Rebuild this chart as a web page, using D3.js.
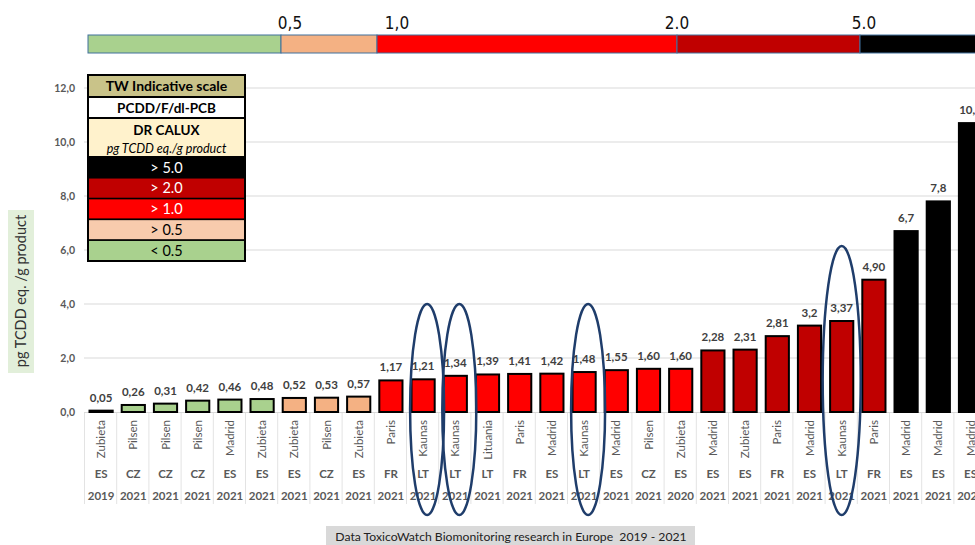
<!DOCTYPE html>
<html>
<head>
<meta charset="utf-8">
<script src="https://cdn.jsdelivr.net/npm/d3@7"></script>
<style>
  body { margin: 0; background: #fff; }
  svg { display: block; font-family: Lato, "Open Sans", sans-serif; }
</style>
</head>
<body>
<div id="chart"></div>
<script>
// chart values
var cities = ["Zubieta", "Pilsen", "Pilsen", "Pilsen", "Madrid", "Zubieta", "Zubieta", "Pilsen", "Zubieta",
    "Paris", "Kaunas", "Kaunas", "Lituania", "Paris", "Madrid", "Kaunas", "Madrid", "Pilsen", "Zubieta",
    "Madrid", "Zubieta", "Paris", "Madrid", "Kaunas", "Paris", "Madrid", "Madrid", "Madrid"];
var countries = ["ES", "CZ", "CZ", "CZ", "ES", "ES", "ES", "CZ", "ES",
    "FR", "LT", "LT", "LT", "FR", "ES", "LT", "ES", "CZ", "ES",
    "ES", "ES", "FR", "ES", "LT", "FR", "ES", "ES", "ES"];
var years = ["2019", "2021", "2021", "2021", "2021", "2021", "2021", "2021", "2021",
    "2021", "2021", "2021", "2021", "2021", "2021", "2021", "2021", "2021", "2020",
    "2021", "2021", "2021", "2021", "2021", "2021", "2021", "2021", "2021"];
var values = [0.05, 0.26, 0.31, 0.42, 0.46, 0.48, 0.52, 0.53, 0.57,
    1.17, 1.21, 1.34, 1.39, 1.41, 1.42, 1.48, 1.55, 1.60, 1.60,
    2.28, 2.31, 2.81, 3.2, 3.37, 4.90, 6.7, 7.8, 10.7];
var valueLabels = ["0,05", "0,26", "0,31", "0,42", "0,46", "0,48", "0,52", "0,53", "0,57",
    "1,17", "1,21", "1,34", "1,39", "1,41", "1,42", "1,48", "1,55", "1,60", "1,60",
    "2,28", "2,31", "2,81", "3,2", "3,37", "4,90", "6,7", "7,8", "10,7"];

var yTicks = [0, 2, 4, 6, 8, 10, 12];
var yTickLabels = ["0,0", "2,0", "4,0", "6,0", "8,0", "10,0", "12,0"];

// indicative scale
var thresholds = [0.5, 1, 2, 5];
var scaleColors = ["#a9d18e", "#f4b183", "#ff0000", "#c00000", "#000000"];
var topTicks = [0.5, 1, 2, 5];
var topTickLabels = ["0,5", "1,0", "2.0", "5.0"];
var legendRows = ["> 5.0", "> 2.0", "> 1.0", "> 0.5", "< 0.5"];
var legendColors = ["#000000", "#c00000", "#ff0000", "#f8cbad", "#a9d18e"];
var legendTextColors = ["#fff", "#fff", "#fff", "#000", "#000"];

// circled bars (Kaunas) and the value the ellipse top reaches
var circled = [10, 11, 15, 23];
var circledTop = [4.0, 4.0, 4.0, 6.15];

var width = 975, height = 545;

var svg = d3.select("#chart").append("svg")
    .attr("width", width)
    .attr("height", height);

var x = d3.scaleBand().domain(d3.range(values.length))
    .range([85, 85 + 32.2 * values.length])
    .paddingInner(0.28)
    .paddingOuter(0.14);
var y = d3.scaleLinear().domain([0, 12]).range([412, 88]);
var color = d3.scaleThreshold().domain(thresholds).range(scaleColors);

// top colour strip, piecewise so it lines up with the original
var topX = d3.scaleLinear().domain([0, 0.5, 1, 2, 5, 12]).range([88, 281, 377, 677, 860, 1200]);
var strip = [0].concat(thresholds);
svg.selectAll(".strip").data(strip).enter().append("rect")
    .attr("x", d => topX(d))
    .attr("y", 35)
    .attr("width", (d, i) => topX(i < thresholds.length ? thresholds[i] : 12) - topX(d))
    .attr("height", 18)
    .attr("fill", (d, i) => scaleColors[i])
    .attr("stroke", "#41719c")
    .attr("stroke-width", 1);
svg.selectAll(".toptick").data(topTicks).enter().append("text")
    .attr("x", (d, i) => topX(d) + [9, 20, 0, 4][i])
    .attr("y", 29)
    .attr("text-anchor", "middle")
    .attr("font-family", "'Liberation Sans Narrow', 'DejaVu Sans Condensed', sans-serif")
    .attr("font-size", 17)
    .attr("fill", "#111")
    .text((d, i) => topTickLabels[i]);

// gridlines
svg.append("g").selectAll("line").data(yTicks.slice(1)).enter().append("line")
    .attr("x1", 84).attr("x2", width)
    .attr("y1", d => y(d)).attr("y2", d => y(d))
    .attr("stroke", "#d9d9d9")
    .attr("stroke-width", 1);

// y axis labels
svg.append("g").selectAll("text").data(yTicks).enter().append("text")
    .attr("x", 75)
    .attr("y", d => y(d) + 4)
    .attr("text-anchor", "end")
    .attr("font-size", 10.5)
    .attr("font-weight", "bold")
    .attr("fill", "#595959")
    .text((d, i) => yTickLabels[i]);

// category divider lines
svg.append("g").selectAll("line").data(d3.range(values.length + 1)).enter().append("line")
    .attr("x1", d => 85 + x.step() * d - 0.5)
    .attr("x2", d => 85 + x.step() * d - 0.5)
    .attr("y1", 412).attr("y2", 504)
    .attr("stroke", "#e3e3e3");
svg.append("line")
    .attr("x1", 84).attr("x2", width)
    .attr("y1", 412.5).attr("y2", 412.5)
    .attr("stroke", "#d9d9d9");

// bars
svg.append("g").selectAll("rect").data(values).enter().append("rect")
    .attr("x", (d, i) => x(i))
    .attr("y", d => y(d))
    .attr("width", x.bandwidth())
    .attr("height", d => y(0) - y(d))
    .attr("fill", d => color(d))
    .attr("stroke", "#000")
    .attr("stroke-width", 2);

// value labels
svg.append("g").selectAll("text").data(values).enter().append("text")
    .attr("x", (d, i) => x(i) + x.bandwidth() / 2)
    .attr("y", d => y(d) - 9)
    .attr("text-anchor", "middle")
    .attr("font-size", 11.5)
    .attr("font-weight", "bold")
    .attr("fill", "#404040")
    .text((d, i) => valueLabels[i]);

// category labels
var cx = i => x(i) + x.bandwidth() / 2;
svg.append("g").selectAll("text").data(cities).enter().append("text")
    .attr("transform", (d, i) => "translate(" + (cx(i) + 4) + ",420) rotate(-90)")
    .attr("text-anchor", "end")
    .attr("font-size", 11.5)
    .attr("fill", "#595959")
    .text(d => d);
svg.append("g").selectAll("text").data(countries).enter().append("text")
    .attr("x", (d, i) => cx(i))
    .attr("y", 478)
    .attr("text-anchor", "middle")
    .attr("font-size", 11.5)
    .attr("font-weight", "bold")
    .attr("fill", "#595959")
    .text(d => d);
svg.append("g").selectAll("text").data(years).enter().append("text")
    .attr("x", (d, i) => cx(i))
    .attr("y", 500)
    .attr("text-anchor", "middle")
    .attr("font-size", 11.5)
    .attr("font-weight", "bold")
    .attr("fill", "#595959")
    .text(d => d);

// ellipses round the Kaunas bars
svg.append("g").selectAll("ellipse").data(circled).enter().append("ellipse")
    .attr("cx", (d, i) => cx(d) + (i < 3 ? 4 : 0))
    .attr("cy", (d, i) => (y(circledTop[i]) + 515) / 2)
    .attr("rx", (d, i) => i < 3 ? 17 : 19)
    .attr("ry", (d, i) => (515 - y(circledTop[i])) / 2)
    .attr("fill", "none")
    .attr("stroke", "#1f3d6b")
    .attr("stroke-width", 2.5);

// legend table
var lg = svg.append("g").attr("transform", "translate(88,75)");
var lw = 157;
lg.append("rect").attr("width", lw).attr("height", 22).attr("fill", "#c9c389");
lg.append("text").attr("x", lw / 2).attr("y", 16).attr("text-anchor", "middle")
    .attr("font-size", 14).attr("font-weight", "bold").attr("fill", "#000").text("TW Indicative scale");
lg.append("rect").attr("y", 22).attr("width", lw).attr("height", 21).attr("fill", "#fff");
lg.append("text").attr("x", lw / 2).attr("y", 38).attr("text-anchor", "middle")
    .attr("font-size", 13.5).attr("font-weight", "bold").attr("fill", "#000").text("PCDD/F/dl-PCB");
lg.append("rect").attr("y", 43).attr("width", lw).attr("height", 39).attr("fill", "#fff2cc");
lg.append("text").attr("x", lw / 2).attr("y", 60).attr("text-anchor", "middle")
    .attr("font-size", 13.5).attr("font-weight", "bold").attr("fill", "#000").text("DR CALUX");
lg.append("text").attr("x", lw / 2).attr("y", 78).attr("text-anchor", "middle")
    .attr("font-size", 12.5).attr("font-style", "italic").attr("fill", "#000").text("pg TCDD eq./g product");
lg.selectAll(".row").data(legendRows).enter().append("rect")
    .attr("y", (d, i) => 82 + i * 20.8)
    .attr("width", lw).attr("height", 20.8)
    .attr("fill", (d, i) => legendColors[i])
    .attr("stroke", "#000").attr("stroke-width", 1.5);
lg.selectAll(".rowtext").data(legendRows).enter().append("text")
    .attr("x", lw / 2)
    .attr("y", (d, i) => 82 + i * 20.8 + 15.5)
    .attr("text-anchor", "middle")
    .attr("font-size", 14.5)
    .attr("fill", (d, i) => legendTextColors[i])
    .text(d => d);
lg.append("path")
    .attr("d", "M0,0H" + lw + "V186H0Z M0,22H" + lw + " M0,43H" + lw + " M0,82H" + lw)
    .attr("fill", "none").attr("stroke", "#000").attr("stroke-width", 2);

// y axis title
svg.append("rect").attr("x", 8).attr("y", 210).attr("width", 26).attr("height", 163).attr("fill", "#e2efda");
svg.append("text")
    .attr("transform", "translate(26,291) rotate(-90)")
    .attr("text-anchor", "middle")
    .attr("font-size", 14.5)
    .attr("fill", "#333")
    .text("pg TCDD eq. /g product");

// source note
svg.append("rect").attr("x", 326).attr("y", 526).attr("width", 369).attr("height", 19).attr("fill", "#d9d9d9");
svg.append("text")
    .attr("x", 511).attr("y", 541)
    .attr("text-anchor", "middle")
    .attr("font-size", 12.2)
    .attr("fill", "#222")
    .attr("xml:space", "preserve")
    .text("Data ToxicoWatch Biomonitoring research in Europe  2019 - 2021");
</script>
</body>
</html>
